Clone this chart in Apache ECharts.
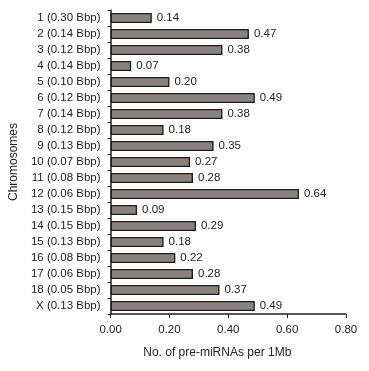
<!DOCTYPE html>
<html>
<head>
<meta charset="utf-8">
<script src="https://cdn.jsdelivr.net/npm/echarts@6/dist/echarts.min.js"></script>
<style>
html, body { margin: 0; padding: 0; background: #fff; }
#chart { width: 369px; height: 371px; }
</style>
</head>
<body>
<div id="chart"></div>
<script>
var chromosomes = ['1 (0.30 Bbp)', '2 (0.14 Bbp)', '3 (0.12 Bbp)', '4 (0.14 Bbp)', '5 (0.10 Bbp)',
  '6 (0.12 Bbp)', '7 (0.14 Bbp)', '8 (0.12 Bbp)', '9 (0.13 Bbp)', '10 (0.07 Bbp)',
  '11 (0.08 Bbp)', '12 (0.06 Bbp)', '13 (0.15 Bbp)', '14 (0.15 Bbp)', '15 (0.13 Bbp)',
  '16 (0.08 Bbp)', '17 (0.06 Bbp)', '18 (0.05 Bbp)', 'X (0.13 Bbp)'];
var density = [0.14, 0.47, 0.38, 0.07, 0.20, 0.49, 0.38, 0.18, 0.35, 0.27,
  0.28, 0.64, 0.09, 0.29, 0.18, 0.22, 0.28, 0.37, 0.49];

var chart = echarts.init(document.getElementById('chart'));
var font = 'Liberation Sans, Arial, sans-serif';

chart.setOption({
  backgroundColor: '#ffffff',
  animation: false,
  grid: { left: 107, right: 23, top: 10, bottom: 57, containLabel: false },
  xAxis: {
    type: 'value',
    min: 0,
    max: 0.8,
    interval: 0.2,
    name: 'No. of pre-miRNAs per 1Mb',
    nameLocation: 'middle',
    nameGap: 33,
    nameTextStyle: { color: '#222', fontSize: 12, fontFamily: font, padding: [0, 22, 0, 0] },
    axisLine: { show: true, lineStyle: { color: '#222', width: 1.5 } },
    axisTick: { show: true, length: 4, lineStyle: { color: '#222' } },
    axisLabel: { color: '#222', fontSize: 11.5, fontFamily: font, margin: 10,
      formatter: function (v) { return v.toFixed(2); } },
    splitLine: { show: false }
  },
  yAxis: {
    type: 'category',
    data: chromosomes,
    inverse: true,
    name: 'Chromosomes',
    nameLocation: 'middle',
    nameGap: 90,
    nameRotate: 90,
    nameTextStyle: { color: '#222', fontSize: 12, fontFamily: font },
    axisLine: { show: true, lineStyle: { color: '#222', width: 1.5 } },
    axisTick: { show: true, length: 3, lineStyle: { color: '#222' } },
    axisLabel: { color: '#222', fontSize: 11.5, fontFamily: font, margin: 10 }
  },
  series: [{
    type: 'bar',
    data: density,
    barWidth: '64%',
    itemStyle: { color: '#8a827f', borderColor: '#1a1a1a', borderWidth: 1.3 },
    label: {
      show: true,
      position: 'right',
      distance: 5,
      color: '#222',
      fontSize: 11.5,
      fontFamily: font,
      formatter: function (p) { return p.value.toFixed(2); }
    }
  }]
});
</script>
</body>
</html>
